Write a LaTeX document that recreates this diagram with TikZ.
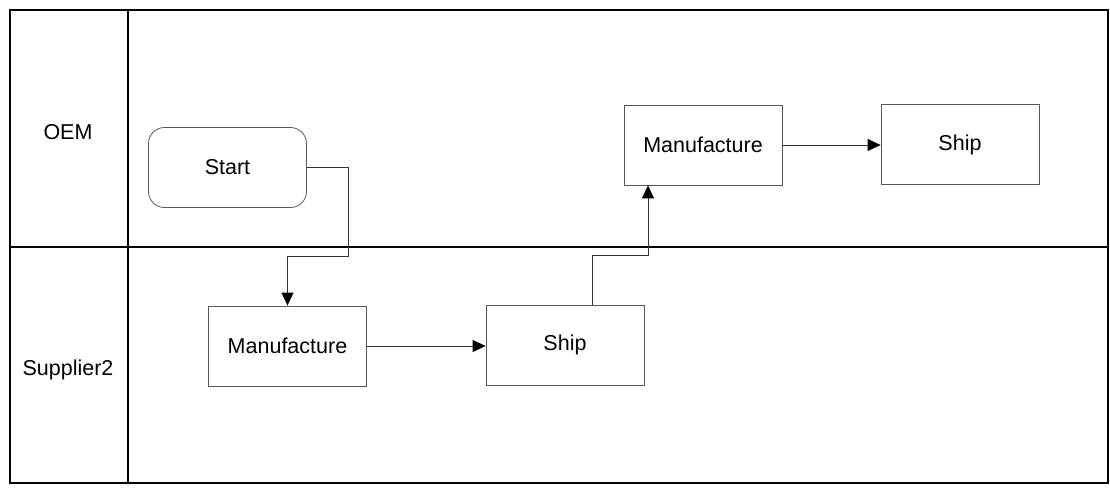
\documentclass[tikz,border=0pt]{standalone}
\usepackage{fontspec}
\setmainfont{Liberation Sans}
\usetikzlibrary{arrows.meta}
\begin{document}
\begin{tikzpicture}[x=1pt,y=-1pt,
  lanebox/.style={draw=black,line width=2.6pt},
  stepbox/.style={draw=black!65,line width=0.8pt,minimum width=158pt,minimum height=80pt,inner sep=0pt,
    font=\fontsize{21.5}{26}\selectfont},
  startbox/.style={stepbox,rounded corners=16pt},
  lanelabel/.style={font=\fontsize{21.5}{26}\selectfont,inner sep=0pt},
  flow/.style={draw=black!80,line width=0.9pt,-{Triangle[length=13pt,width=12pt,fill=black,color=black]}}]
\useasboundingbox (0,0) rectangle (1110,487);

% swimlane frame
\draw[lanebox] (10,10) rectangle (1108,483);
\draw[lanebox] (128,10) -- (128,483);
\draw[lanebox] (10,247) -- (1108,247);

% lane titles
\node[lanelabel] (oem) at (68,132) {OEM};
\node[lanelabel] (sup) at (68,370) {Supplier2};

% process steps
\node[startbox] (start) at (227.5,167.5) {Start};
\node[stepbox] (m2) at (287.5,346) {Manufacture};
\node[stepbox] (s2) at (565,345) {Ship};
\node[stepbox] (m1) at (703,145) {Manufacture};
\node[stepbox] (s1) at (960,144.5) {Ship};

% routing corners
\coordinate (c1) at (348,256);
\coordinate (c2) at (648,255);

% connectors
\draw[flow] (start.east) -| (c1) -| (m2.north);
\draw[flow] (m2.east) -- (m2.east -| s2.west);
\draw[flow] ([xshift=27pt]s2.north) |- (c2) -- (c2 |- m1.south);
\draw[flow] (m1.east) -- (m1.east -| s1.west);
\end{tikzpicture}
\end{document}
